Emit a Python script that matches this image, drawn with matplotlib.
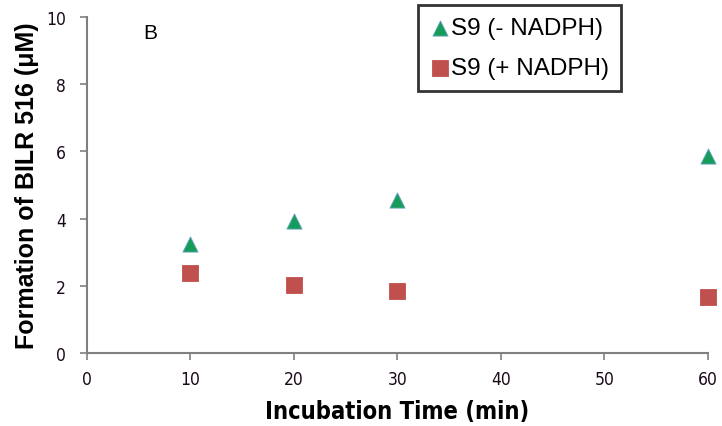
import matplotlib
matplotlib.use("Agg")
import matplotlib.pyplot as plt

# incubation times (min) and BILR 516 formation (uM)
times = [10, 20, 30, 60]
minus_nadph = [3.25, 3.92, 4.55, 5.85]
plus_nadph = [2.38, 2.03, 1.85, 1.66]

x_ticks = [0, 10, 20, 30, 40, 50, 60]
y_ticks = [0, 2, 4, 6, 8, 10]

plt.rcParams['font.family'] = ['Liberation Sans', 'DejaVu Sans']

fig = plt.figure(figsize=(7.22, 4.27), dpi=100)
ax = fig.add_axes([0.1205, 0.171, 0.8601, 0.787])

ax.scatter(times, minus_nadph, marker="^", s=120, color="#169c5a",
           edgecolors="#6fa3c8", linewidths=0.6, label="S9 (- NADPH)",
           zorder=3, clip_on=False)
ax.scatter(times, plus_nadph, marker="s", s=135, color="#c0504d",
           edgecolors="#c0504d", linewidths=0.6, label="S9 (+ NADPH)",
           zorder=3, clip_on=False)

ax.set_xlim(0, 60)
ax.set_ylim(0, 10)
ax.set_xticks(x_ticks)
ax.set_yticks(y_ticks)

tick_font = {'family': 'DejaVu Sans', 'stretch': 'condensed', 'size': 12.5}
ax.set_xticklabels([str(t) for t in x_ticks], fontdict=tick_font)
ax.set_yticklabels([str(t) for t in y_ticks], fontdict=tick_font)

for side in ["top", "right"]:
    ax.spines[side].set_visible(False)
for side in ["left", "bottom"]:
    ax.spines[side].set_color("#808080")
    ax.spines[side].set_linewidth(1.5)
ax.tick_params(colors="#808080", width=1.2, length=5, direction="out",
               labelcolor="#1a0a1a")
ax.tick_params(axis="y", pad=10)
ax.tick_params(axis="x", pad=7)

ax.set_xlabel("Incubation Time (min)", fontsize=17, fontweight="bold",
              family="DejaVu Sans", fontstretch="condensed", labelpad=8)
ax.set_ylabel("Formation of BILR 516 (\u03bcM)", fontsize=18, fontweight="bold",
              labelpad=5)

ax.text(6.1, 9.55, "B", fontsize=15, ha="center", va="center")

leg = ax.legend(loc="upper left", bbox_to_anchor=(0.533, 1.036), fontsize=17.5,
                frameon=True, fancybox=False, handletextpad=0.05, borderpad=0.5,
                labelspacing=0.75, handlelength=0.8, scatterpoints=1,
                borderaxespad=0.0)
leg.get_frame().set_edgecolor("black")
leg.get_frame().set_linewidth(2)

fig.savefig("out.png", dpi=100)
